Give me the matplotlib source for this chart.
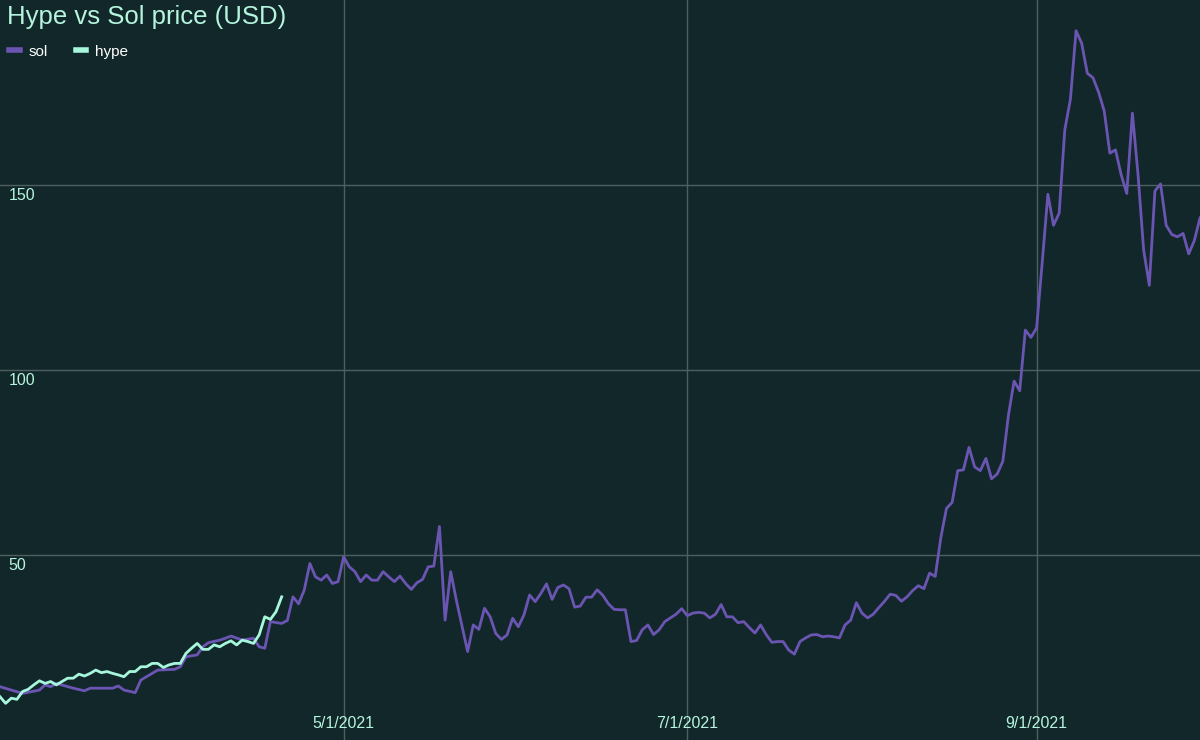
import numpy as np
import pandas as pd
import matplotlib
matplotlib.use("Agg")
import matplotlib.pyplot as plt
import matplotlib.transforms as mtrans

plt.rcParams['font.family'] = ['Liberation Sans', 'DejaVu Sans']

# sol: (days since 2021-03-01, price)
sol_days = [0, 4, 7, 8, 9, 10, 13, 15, 16, 20, 21, 22, 24, 25, 27, 28, 31, 32, 33, 35,
            36, 37, 39, 40, 41, 43, 45, 46, 47, 48, 50, 51, 52, 53, 54, 55, 56, 57, 58, 59,
            60, 61, 62, 63, 64, 65, 66, 67, 68, 69, 70, 71, 72, 73, 74, 75, 76, 77, 78, 79,
            80, 81, 83, 84, 85, 86, 87, 88, 89, 90, 91, 92, 93, 94, 95, 96, 97, 98, 99, 100,
            101, 102, 103, 104, 105]
sol_vals = [14.4, 12.6, 13.5, 14.9, 14.4, 15.3, 14.0, 13.3, 14.0, 14.0, 14.6, 13.5, 12.8, 16.2, 18.0, 18.9, 19.1, 19.8, 22.5, 23.0,
            25.2, 26.3, 27.0, 27.5, 28.1, 27.0, 27.5, 25.2, 24.8, 32.0, 31.5, 32.3, 38.7, 36.8, 40.5, 47.7, 44.1, 43.2, 44.6, 42.3,
            42.8, 49.5, 46.8, 45.5, 42.8, 44.6, 43.2, 43.2, 45.5, 44.1, 42.8, 44.3, 42.3, 40.7, 42.5, 43.4, 46.8, 47.0, 57.7, 32.4,
            45.5, 37.8, 23.9, 31.1, 29.9, 35.6, 33.3, 28.8, 27.2, 28.4, 32.9, 30.6, 33.8, 39.2, 37.4, 39.6, 42.2, 38.0, 41.2, 41.9,
            40.9, 35.9, 36.2, 38.6, 38.6]
sol_days += list(range(106, 214))
sol_vals += [40.6, 39.1, 36.8, 35.3, 35.2, 35.2, 26.6, 26.9, 29.8, 31.1, 28.5, 29.8, 32.0, 33.0, 34.0, 35.5,
             33.6, 34.3, 34.5, 34.3, 33.0, 34.0, 36.6, 33.3, 33.3, 31.7, 32.0, 30.4, 28.9, 31.1, 28.5, 26.4,
             26.6, 26.6, 24.3, 23.2, 26.6, 27.6, 28.4, 28.5, 27.9, 28.1, 27.9, 27.6, 31.1, 32.4, 37.1, 34.3,
             33.0, 34.0, 35.8, 37.5, 39.4, 39.1, 37.5, 38.7, 40.4, 41.7, 40.9, 45.1, 44.2, 54.7, 62.6, 64.2,
             72.8, 73.0, 79.1, 73.8, 72.8, 76.1, 70.6, 71.9, 75.3, 87.8, 97.0, 94.4, 110.8, 108.8, 111.4, 129.2,
             147.5, 139.1, 142.4, 164.9, 173.2, 191.7, 188.3, 180.2, 179.0, 175.1, 170.0, 158.6, 159.5, 152.8, 147.7, 169.4,
             152.8, 132.4, 122.9, 148.4, 150.3, 139.1, 136.6, 136.0, 136.9, 131.4, 135.0, 141.1]

hype_vals = [11.7, 9.9, 11.3, 11.0, 13.1, 13.7, 14.9, 16.0, 15.3, 15.8, 14.9, 15.8, 16.7, 16.7, 17.8, 17.3,
             18.0, 18.9, 18.2, 18.5, 18.0, 17.6, 17.1, 18.5, 18.5, 19.8, 19.8, 20.7, 20.7, 19.6, 20.3, 20.7,
             20.7, 23.4, 24.8, 26.1, 24.5, 24.5, 25.7, 25.2, 26.1, 26.8, 25.7, 27.0, 26.6, 26.1, 28.4, 33.3,
             32.6, 34.7, 38.7]

start = pd.Timestamp("2021-03-01")
sol_dates = start + pd.to_timedelta(sol_days, unit="D")
hype_dates = pd.date_range(start, periods=len(hype_vals), freq="D")

y_ticks = [50, 100, 150]
x_ticks = pd.to_datetime(["2021-05-01", "2021-07-01", "2021-09-01"])

bg = "#12272a"
mint = "#b5f5de"
grid_c = "#4d605f"

fig = plt.figure(figsize=(12, 7.4), dpi=100, facecolor=bg)
ax = fig.add_axes([0, 0, 1, 1], facecolor=bg)
ax.set_xlim(start, pd.Timestamp("2021-09-30"))
ax.set_ylim(0, 200)
ax.set_xticks(x_ticks)
ax.set_yticks(y_ticks)
ax.grid(True, color=grid_c, linewidth=1)
ax.tick_params(length=0, labelbottom=False, labelleft=False)
for s in ax.spines.values():
    s.set_visible(False)

ax.plot(sol_dates, sol_vals, color="#6b55b2", linewidth=2, label="sol", zorder=3)
ax.plot(hype_dates, hype_vals, color="#a6f7dc", linewidth=2, label="hype", zorder=4)

# tick labels drawn inside the plot
ty = mtrans.blended_transform_factory(ax.transAxes, ax.transData)
for v in y_ticks:
    ax.text(0.007, v - 0.8, str(v), transform=ty, color=mint, fontsize=11.5,
            va="top", ha="left")
tx = mtrans.blended_transform_factory(ax.transData, ax.transAxes)
for d in x_ticks:
    ax.text(d, 0.012, f"{d.month}/{d.day}/{d.year}", transform=tx, color=mint,
            fontsize=11.5, ha="center", va="bottom")

fig.text(0.006, 0.993, "Hype vs Sol price (USD)", color=mint, fontsize=18.5,
         ha="left", va="top")
leg = ax.legend(loc="upper left", bbox_to_anchor=(-0.004, 0.958), ncol=2, frameon=False,
                handlelength=0.7, handletextpad=0.6, columnspacing=1.8, fontsize=11)
for t in leg.get_texts():
    t.set_color("white")
for h in leg.get_lines():
    h.set_linewidth(4)

fig.savefig("out.png", dpi=100, facecolor=bg)
